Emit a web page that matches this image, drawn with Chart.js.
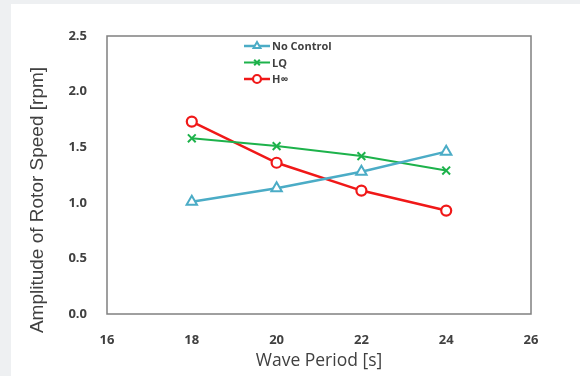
<!DOCTYPE html>
<html>
<head>
<meta charset="utf-8">
<script src="https://cdn.jsdelivr.net/npm/chart.js@4.4.0/dist/chart.umd.min.js"></script>
<style>
  html, body { margin:0; padding:0; background:#eef0f2; }
  body { width:580px; height:376px; position:relative; overflow:hidden; }
  #wrap { position:absolute; left:11px; top:4px; width:569px; height:372px; background:#fff; }
</style>
</head>
<body>
<div id="wrap"><canvas id="chart" width="569" height="372"></canvas></div>
<script>
// ---- Data ----
const wavePeriods = [18, 20, 22, 24];
const noControl = [1.01, 1.13, 1.28, 1.46];
const lq        = [1.58, 1.51, 1.42, 1.29];
const hInf      = [1.73, 1.36, 1.11, 0.93];
const seriesNames = ['No Control', 'LQ', 'H\u221E'];
const yTitle = 'Amplitude of Rotor Speed [rpm]';

const textColor = '#404040';
const toXY = (vals)=> wavePeriods.map((x,i)=> ({ x, y: vals[i] }));

// ---- Plugins ----
const frame = {
  id: 'frame',
  afterDraw(chart){
    const { ctx, chartArea:a } = chart;
    ctx.save();
    ctx.strokeStyle = '#808080';
    ctx.lineWidth = 1.5;
    ctx.strokeRect(a.left, a.top, a.right - a.left, a.bottom - a.top);
    // y axis title, sits a little below the plot centre like the original
    ctx.translate(27, 196);
    ctx.rotate(-Math.PI/2);
    ctx.fillStyle = textColor;
    ctx.font = '19px "Liberation Sans", Arial, sans-serif';
    ctx.textAlign = 'center';
    ctx.textBaseline = 'middle';
    ctx.fillText(yTitle, 0, 0);
    ctx.restore();
  }
};

const insideLegend = {
  id: 'insideLegend',
  afterDraw(chart){
    const { ctx, chartArea:a } = chart;
    const x0 = a.left + 137, y0 = a.top + 10, gap = 16.5;
    chart.data.datasets.forEach((ds, i) => {
      const y = y0 + i*gap;
      ctx.save();
      ctx.strokeStyle = ds.borderColor;
      ctx.lineWidth = ds.borderWidth;
      ctx.beginPath(); ctx.moveTo(x0, y); ctx.lineTo(x0 + 26, y); ctx.stroke();
      ctx.fillStyle = '#fff';
      ctx.lineWidth = ds.pointBorderWidth;
      Chart.helpers.drawPoint(ctx, { pointStyle: ds.pointStyle, radius: 4, rotation: 0, borderWidth: ds.pointBorderWidth }, x0 + 13, y);
      ctx.fillStyle = textColor;
      ctx.font = 'bold 11px "Open Sans", sans-serif';
      ctx.textBaseline = 'middle';
      ctx.fillText(ds.label, x0 + 28, y + 1);
      ctx.restore();
    });
  }
};

// ---- Chart ----
new Chart(document.getElementById('chart'), {
  type: 'line',
  data: {
    datasets: [
      { label: seriesNames[0], data: toXY(noControl), borderColor:'#4bacc6', borderWidth:2.5,
        pointStyle:'triangle', pointRadius:6, pointBorderWidth:2, pointBackgroundColor:'#fff', pointBorderColor:'#4bacc6' },
      { label: seriesNames[1], data: toXY(lq), borderColor:'#1db24b', borderWidth:2,
        pointStyle:'crossRot', pointRadius:5.5, pointBorderWidth:2, pointBackgroundColor:'#fff', pointBorderColor:'#1db24b' },
      { label: seriesNames[2], data: toXY(hInf), borderColor:'#f01818', borderWidth:2.5,
        pointStyle:'circle', pointRadius:5, pointBorderWidth:2.2, pointBackgroundColor:'#fff', pointBorderColor:'#f01818' }
    ]
  },
  options: {
    responsive: false,
    animation: false,
    layout: { padding: { top: 32, right: 49, left: 0, bottom: 0 } },
    plugins: { legend: { display:false }, tooltip: { enabled:false } },
    scales: {
      x: {
        type: 'linear', min: 16, max: 26,
        ticks: { stepSize: 2, color: textColor, padding: 10, font: { family:'"Open Sans", sans-serif', size: 13, weight: 'bold' } },
        grid: { display:false }, border: { display:false },
        title: { display:true, text:'Wave Period [s]', color: textColor, padding: { top: 0 },
                 font: { family:'"Open Sans", sans-serif', size: 17.5 } },
        afterFit(s){ s.height = 62; }
      },
      y: {
        min: 0, max: 2.5,
        ticks: { stepSize: 0.5, color: textColor, padding: 12, callback: v => v.toFixed(1),
                 font: { family:'"Open Sans", sans-serif', size: 13, weight: 'bold' } },
        grid: { display:false }, border: { display:false },
        afterFit(s){ s.width = 96; }
      }
    }
  },
  plugins: [frame, insideLegend]
});
</script>
</body>
</html>
